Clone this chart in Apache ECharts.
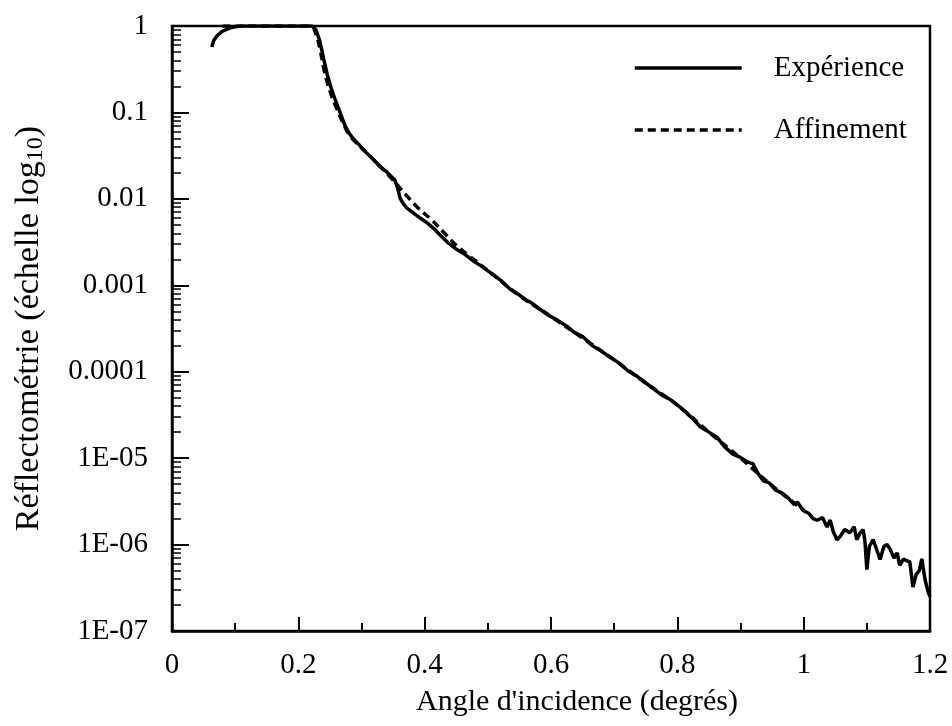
<!DOCTYPE html>
<html>
<head>
<meta charset="utf-8">
<script src="https://cdn.jsdelivr.net/npm/echarts@6/dist/echarts.min.js"></script>
<style>html,body{margin:0;padding:0;background:#fff}#c{width:952px;height:726px}</style>
</head>
<body>
<div id="c"></div>
<script>
// Experimental curve (angle in degrees, reflectivity)
const angleExp = [0.063,0.066,0.072,0.08,0.09,0.1,0.11,0.15,0.2,0.222,0.228,0.234,0.24,0.246,0.252,0.258,0.266,0.274,0.28,0.287,0.298,0.309,0.32,0.329,0.34,0.353,0.357,0.361,0.366,0.372,0.383,0.393,0.405,0.415,0.424,0.437,0.451,0.463,0.476,0.488,0.499,0.51,0.52,0.535,0.548,0.56,0.57,0.583,0.596,0.61,0.625,0.637,0.65,0.666,0.68,0.695,0.709,0.722,0.735,0.748,0.761,0.775,0.79,0.804,0.815,0.826,0.836,0.85,0.863,0.875,0.888,0.9,0.91,0.92,0.928,0.936,0.945,0.955,0.967,0.975,0.985,0.99,0.999,1.008,1.015,1.021,1.03,1.037,1.042,1.047,1.053,1.058,1.065,1.073,1.08,1.084,1.089,1.094,1.097,1.1,1.104,1.11,1.115,1.121,1.127,1.132,1.137,1.143,1.148,1.152,1.158,1.163,1.168,1.173,1.178,1.183,1.187,1.192,1.197,1.2];
const reflExp = [0.57,0.68,0.78,0.87,0.94,0.98,1.0,1.0,1.0,1.0,0.9,0.67,0.42,0.27,0.19,0.143,0.10,0.07,0.058,0.0496,0.041,0.0334,0.028,0.0237,0.0205,0.0164,0.0135,0.0102,0.0088,0.0078,0.0068,0.0060,0.0052,0.0045,0.00384,0.0031,0.00259,0.0023,0.00194,0.0017,0.00149,0.0013,0.00115,9.08e-4,7.9e-4,6.8e-4,6.2e-4,5.24e-4,4.5e-4,3.95e-4,3.36e-4,2.85e-4,2.55e-4,1.99e-4,1.72e-4,1.45e-4,1.24e-4,1.02e-4,9.0e-5,7.6e-5,6.45e-5,5.4e-5,4.7e-5,3.92e-5,3.3e-5,2.8e-5,2.31e-5,2.0e-5,1.74e-5,1.35e-5,1.11e-5,1.02e-5,9.1e-6,8.56e-6,6.6e-6,5.46e-6,5.2e-6,4.3e-6,3.89e-6,3.5e-6,2.9e-6,3.1e-6,2.48e-6,2.3e-6,2.0e-6,1.91e-6,2.05e-6,1.6e-6,1.92e-6,1.4e-6,1.13e-6,1.25e-6,1.5e-6,1.37e-6,1.6e-6,1.14e-6,1.35e-6,1.49e-6,1.1e-6,5.13e-7,9.5e-7,1.14e-6,9.0e-7,6.73e-7,9.5e-7,1.0e-6,8.8e-7,7.0e-7,8.0e-7,5.77e-7,6.8e-7,6.5e-7,6.3e-7,3.22e-7,4.5e-7,5.0e-7,6.83e-7,4.0e-7,2.84e-7,2.5e-7];

// Fitted curve
const angleFit = [0.08,0.15,0.21,0.222,0.228,0.234,0.24,0.246,0.252,0.26,0.27,0.28,0.29,0.31,0.33,0.35,0.37,0.39,0.41,0.43,0.45,0.47,0.5,0.55,0.6,0.65,0.7,0.75,0.8,0.85,0.9,0.95,1.0];
const reflFit = [1,1,1,0.97,0.8,0.55,0.33,0.22,0.16,0.115,0.078,0.056,0.046,0.033,0.0235,0.0165,0.0112,0.0078,0.0058,0.0041,0.0029,0.0022,0.00148,7.6e-4,4.35e-4,2.45e-4,1.37e-4,7.4e-5,4.1e-5,2.0e-5,1.0e-5,4.8e-6,2.5e-6];

const xTickLabels = ['0','0.2','0.4','0.6','0.8','1','1.2'];
const yTickLabels = ['1E-07','1E-06','1E-05','0.0001','0.001','0.01','0.1','1'];
const seriesNames = ['Expérience','Affinement'];

const zip = (a,b) => a.map((v,i)=>[v,b[i]]);
const FONT = 'Liberation Serif';

const chart = echarts.init(document.getElementById('c'), null, {renderer:'canvas'});
chart.setOption({
  animation:false,
  backgroundColor:'#fff',
  grid:{left:172, right:22, top:26, bottom:95, show:true, borderColor:'#000', borderWidth:2.5, backgroundColor:'transparent'},
  legend:{
    orient:'vertical', left:633, top:53, padding:0, itemGap:32,
    itemWidth:107, itemHeight:14,
    itemStyle:{opacity:0},
    lineStyle:{width:3.5},
    textStyle:{fontFamily:FONT, fontSize:29, color:'#000', lineHeight:30, padding:[0,0,0,27]},
    data:seriesNames
  },
  xAxis:{
    type:'value', min:0, max:1.2, interval:0.2,
    axisLine:{show:true, lineStyle:{color:'#000', width:2.5}},
    axisTick:{show:true, inside:true, length:14, lineStyle:{color:'#000', width:2}},
    minorTick:{show:true, splitNumber:2, length:8, lineStyle:{color:'#000', width:2}},
    splitLine:{show:false},
    axisLabel:{fontFamily:FONT, fontSize:29, color:'#000', margin:20,
      formatter:(v)=>xTickLabels[Math.round(v/0.2)]},
    name:"Angle d'incidence (degrés)", nameLocation:'middle', nameGap:56,
    nameTextStyle:{fontFamily:FONT, fontSize:30, color:'#000', padding:[0,0,0,52]}
  },
  yAxis:{
    type:'log', logBase:10, min:1e-7, max:1,
    axisLine:{show:true, lineStyle:{color:'#000', width:2.5}},
    axisTick:{show:true, inside:true, length:17, lineStyle:{color:'#000', width:2}},
    minorTick:{show:true, splitNumber:9, length:9, lineStyle:{color:'#000', width:1.5}},
    splitLine:{show:false},
    axisLabel:{fontFamily:FONT, fontSize:29, color:'#000', margin:24,
      formatter:(v)=>yTickLabels[Math.round(Math.log10(v))+7]},
    name:'Réflectométrie (échelle log{sub|10})', nameLocation:'middle', nameRotate:90, nameGap:124,
    nameTextStyle:{fontFamily:FONT, fontSize:34, color:'#000',
      rich:{sub:{fontFamily:FONT, fontSize:24, color:'#000', verticalAlign:'bottom', padding:[14,0,0,0]}}}
  },
  series:[
    {name:seriesNames[0], type:'line', data:zip(angleExp,reflExp), symbol:'none', smooth:false,
      lineStyle:{color:'#000', width:3.5}, itemStyle:{color:'#000'}, z:3},
    {name:seriesNames[1], type:'line', data:zip(angleFit,reflFit), symbol:'none', smooth:true,
      lineStyle:{color:'#000', width:3.5, type:[8,5]}, itemStyle:{color:'#000'}, z:2}
  ]
});
</script>
</body>
</html>
